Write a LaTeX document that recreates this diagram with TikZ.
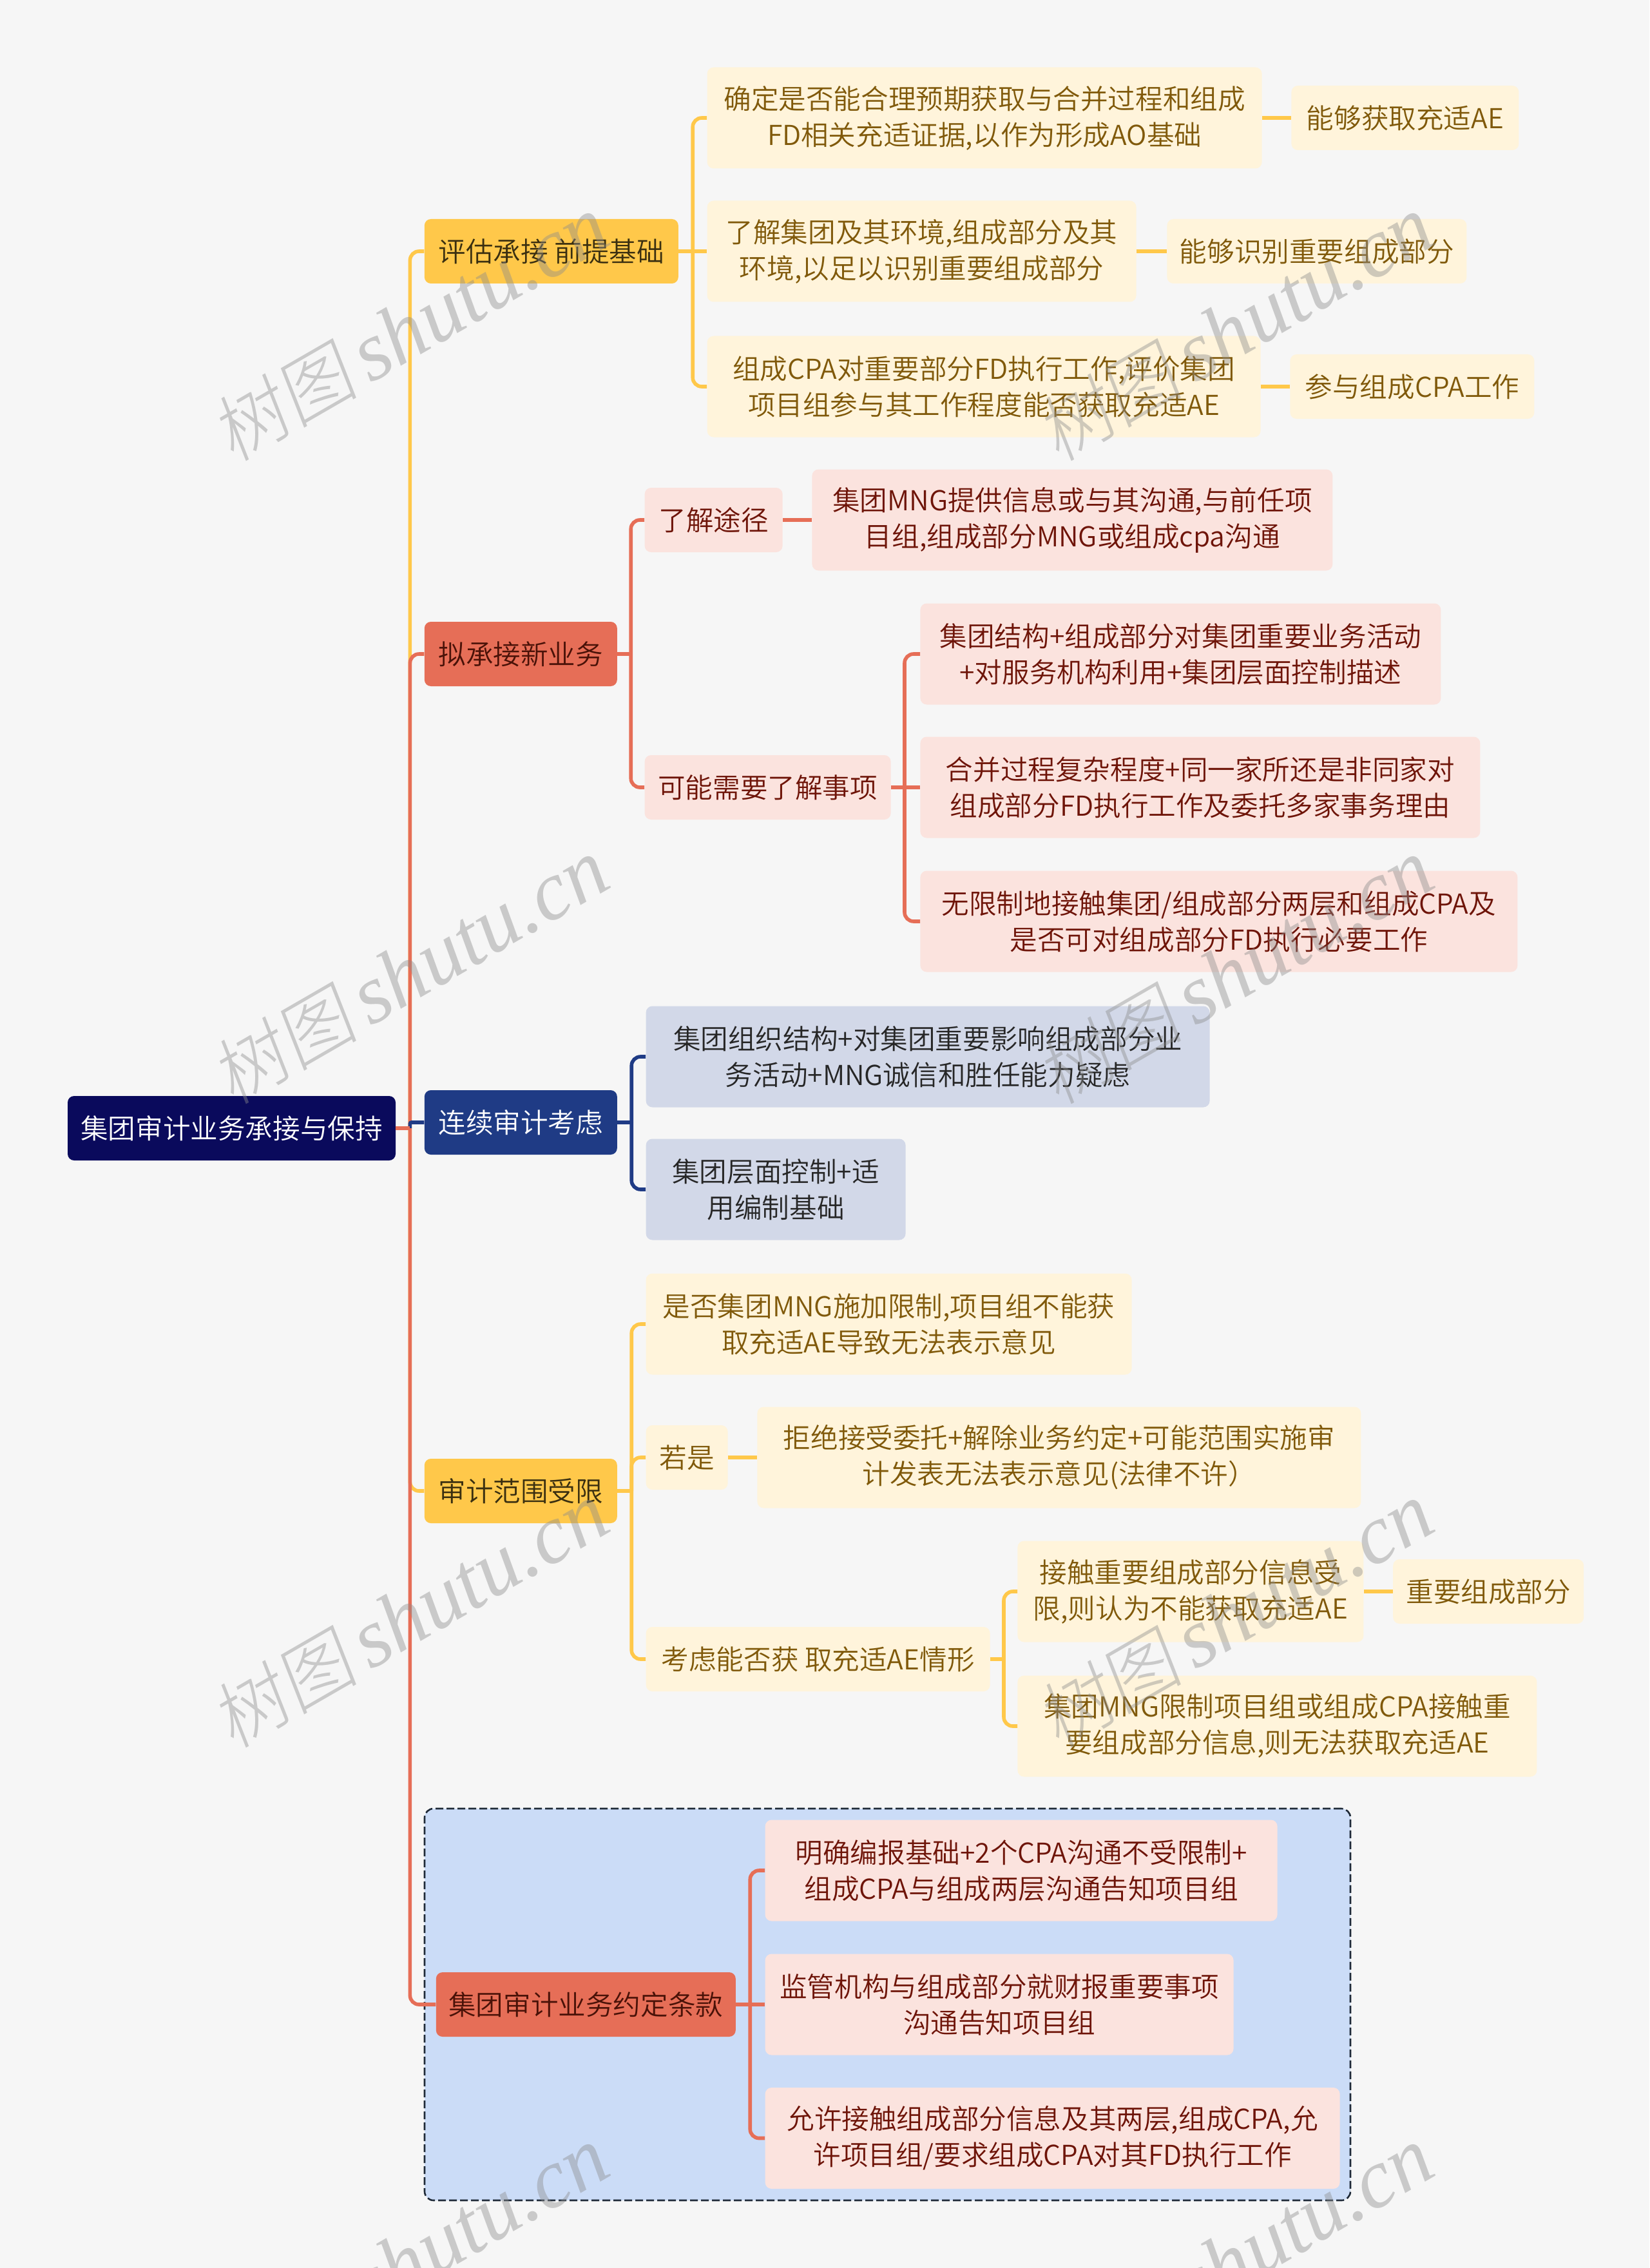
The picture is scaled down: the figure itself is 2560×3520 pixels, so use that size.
\documentclass[tikz,border=0pt]{standalone}
\usepackage{fontspec}
\setmainfont{Noto Sans CJK SC}[UprightFont=* DemiLight]
\newfontfamily\wmlatin{Liberation Serif}[ItalicFont=* Italic]
\newfontfamily\wmcjk{Noto Sans CJK SC}[UprightFont=* Light, FakeSlant=0.15]
\usepackage{xcolor}
\usetikzlibrary{positioning}
\definecolor{pagebg}{HTML}{F6F6F6}
\definecolor{navyroot}{HTML}{0A0A5C}
\definecolor{bluemain}{HTML}{1F3B85}
\definecolor{yellowmain}{HTML}{FFC84A}
\definecolor{redmain}{HTML}{E66E57}
\definecolor{yellowleaf}{HTML}{FFF4DB}
\definecolor{redleaf}{HTML}{FBE3DE}
\definecolor{blueleaf}{HTML}{D2D8E8}
\definecolor{yellowtext}{HTML}{80590A}
\definecolor{redtext}{HTML}{6E1408}
\definecolor{yellowdark}{HTML}{3A2F10}
\definecolor{reddark}{HTML}{4A1208}
\definecolor{groupfill}{HTML}{CBDCF7}
\definecolor{groupline}{HTML}{1F2A38}
\tikzset{
  box/.style={rectangle, rounded corners=5pt, inner sep=0pt, align=center, minimum height=50pt, font=\fontsize{21.3}{28}\selectfont},
  rootnode/.style={box, fill=navyroot, text=white},
  mainy/.style={box, fill=yellowmain, text=yellowdark},
  mainr/.style={box, fill=redmain, text=reddark},
  mainb/.style={box, fill=bluemain, text=white},
  leafy/.style={box, fill=yellowleaf, text=yellowtext},
  leafr/.style={box, fill=redleaf, text=redtext},
  leafb/.style={box, fill=blueleaf, text=black!85},
  two/.style={minimum height=78.5pt},
  wirey/.style={draw=yellowmain, line width=2.8pt, rounded corners=7pt},
  wirer/.style={draw=redmain, line width=2.8pt, rounded corners=7pt},
  wireb/.style={draw=bluemain, line width=2.8pt, rounded corners=7pt},
  groupbox/.style={rectangle, rounded corners=7pt, draw=groupline, fill=groupfill, line width=1.3pt, dash pattern=on 6pt off 2.5pt, inner sep=0pt},
  watermark/.style={rotate=30, text=black!45, opacity=0.42}
}
\newcommand{\wmtext}{{\fontsize{57}{60}\wmcjk 树图}\hspace{9pt}{\fontsize{65}{60}\wmlatin\itshape shutu.cn}}
\begin{document}
\begin{tikzpicture}[x=0.5pt, y=-0.5pt, node distance=22pt]
\fill[pagebg] (0,0) rectangle (2560,3520);
\useasboundingbox (0,0) rectangle (2560,3520);

\node[rootnode, minimum width=254.5pt] (root) at (359.5,1751) {集团审计业务承接与保持};
\coordinate[right=11pt of root] (trunk);

% main branches
\node[mainy, minimum width=197pt, right=of root, yshift=680.5pt] (assess) {评估承接 前提基础};
\node[mainr, minimum width=149.5pt, right=of root, yshift=368pt] (newbiz) {拟承接新业务};
\node[mainb, minimum width=149.5pt, right=of root, yshift=4.5pt] (continuing) {连续审计考虑};
\node[mainy, minimum width=149.5pt, right=of root, yshift=-281.5pt] (limit) {审计范围受限};

% group behind the last branch
\node[groupbox, minimum width=718.5pt, minimum height=304pt] (group) at (1377.5,3111) {};
\node[mainr, minimum width=232.5pt, right=of root, xshift=9pt, yshift=-680pt] (terms) {集团审计业务约定条款};

% first branch
\node[leafy, two, minimum width=430.5pt, right=of assess, yshift=103.5pt] (assessa) {确定是否能合理预期获取与合并过程和组成\\FD相关充适证据,以作为形成AO基础};
\node[leafy, two, minimum width=333pt, right=of assess] (assessb) {了解集团及其环境,组成部分及其\\环境,以足以识别重要组成部分};
\node[leafy, two, minimum width=429.5pt, right=of assess, yshift=-105pt] (assessc) {组成CPA对重要部分FD执行工作,评价集团\\项目组参与其工作程度能否获取充适AE};
\node[leafy, minimum width=176.5pt, right=22.5pt of assessa] (assessaa) {能够获取充适AE};
\node[leafy, minimum width=232.5pt, right=23.5pt of assessb] (assessbb) {能够识别重要组成部分};
\node[leafy, minimum width=189.5pt, right=22.5pt of assessc] (assesscc) {参与组成CPA工作};

% second branch
\node[leafr, minimum width=107pt, right=21pt of newbiz, yshift=104pt] (route) {了解途径};
\node[leafr, minimum width=191pt, right=21pt of newbiz, yshift=-103.5pt] (items) {可能需要了解事项};
\node[leafr, two, minimum width=404pt, right=22.5pt of route] (routea) {集团MNG提供信息或与其沟通,与前任项\\目组,组成部分MNG或组成cpa沟通};
\node[leafr, two, minimum width=404pt, right=22.5pt of items, yshift=103.5pt] (itemsa) {集团结构+组成部分对集团重要业务活动\\+对服务机构利用+集团层面控制描述};
\node[leafr, two, minimum width=434.5pt, right=22.5pt of items] (itemsb) {合并过程复杂程度+同一家所还是非同家对\\组成部分FD执行工作及委托多家事务理由};
\node[leafr, two, minimum width=463.5pt, right=22.5pt of items, yshift=-104pt] (itemsc) {无限制地接触集团/组成部分两层和组成CPA及\\是否可对组成部分FD执行必要工作};

% third branch
\node[leafb, two, minimum width=437.5pt, right=of continuing, yshift=51pt] (conta) {集团组织结构+对集团重要影响组成部分业\\务活动+MNG诚信和胜任能力疑虑};
\node[leafb, two, minimum width=201.5pt, right=of continuing, yshift=-52pt] (contb) {集团层面控制+适\\用编制基础};

% fourth branch
\node[leafy, two, minimum width=377pt, right=of limit, yshift=129.5pt] (limita) {是否集团MNG施加限制,项目组不能获\\取充适AE导致无法表示意见};
\node[leafy, minimum width=63.5pt, right=of limit, yshift=26pt] (ifso) {若是};
\node[leafy, minimum width=267pt, right=of limit, yshift=-130.5pt] (consider) {考虑能否获 取充适AE情形};
\node[leafy, two, minimum width=468.5pt, right=22.5pt of ifso] (ifsoa) {拒绝接受委托+解除业务约定+可能范围实施审\\计发表无法表示意见(法律不许）};
\node[leafy, two, minimum width=268.5pt, right=21pt of consider, yshift=52.5pt] (considera) {接触重要组成部分信息受\\限,则认为不能获取充适AE};
\node[leafy, two, minimum width=403pt, right=21pt of consider, yshift=-52pt] (considerb) {集团MNG限制项目组或组成CPA接触重\\要组成部分信息,则无法获取充适AE};
\node[leafy, minimum width=148pt, right=22.5pt of considera] (consideraa) {重要组成部分};

% last branch
\node[leafr, two, minimum width=397.5pt, right=22.5pt of terms, yshift=104pt] (termsa) {明确编报基础+2个CPA沟通不受限制+\\组成CPA与组成两层沟通告知项目组};
\node[leafr, two, minimum width=363.5pt, right=22.5pt of terms] (termsb) {监管机构与组成部分就财报重要事项\\沟通告知项目组};
\node[leafr, two, minimum width=446pt, right=22.5pt of terms, yshift=-103.75pt] (termsc) {允许接触组成部分信息及其两层,组成CPA,允\\许项目组/要求组成CPA对其FD执行工作};

% junctions
\coordinate[right=11pt of assess] (assessj);
\coordinate[right=10.5pt of newbiz] (newbizj);
\coordinate[right=10.5pt of items] (itemsj);
\coordinate[right=11pt of continuing] (contj);
\coordinate[right=11pt of limit] (limitj);
\coordinate[right=10.5pt of consider] (considerj);
\coordinate[right=11pt of terms] (termsj);

% trunk, later ones lie over earlier ones
\draw[wirey] (trunk) |- (assess);
\draw[wirey] (trunk) |- (limit);
\draw[wirer] (trunk) |- (newbiz);
\draw[wireb, rounded corners=1pt] (trunk) |- (continuing);
\draw[wirer] (trunk) |- (terms);
\draw[wirer, rounded corners=0pt] (root) -- (trunk);

\draw[wirey] (assess) -- (assessj);
\draw[wirey] (assessj) |- (assessa);
\draw[wirey] (assessj) -- (assessb);
\draw[wirey] (assessj) |- (assessc);
\draw[wirey] (assessa) -- (assessaa);
\draw[wirey] (assessb) -- (assessbb);
\draw[wirey] (assessc) -- (assesscc);

\draw[wirer] (newbiz) -- (newbizj);
\draw[wirer] (newbizj) |- (route);
\draw[wirer] (newbizj) |- (items);
\draw[wirer] (route) -- (routea);
\draw[wirer] (items) -- (itemsj);
\draw[wirer] (itemsj) |- (itemsa);
\draw[wirer] (itemsj) -- (itemsb);
\draw[wirer] (itemsj) |- (itemsc);

\draw[wireb] (continuing) -- (contj);
\draw[wireb] (contj) |- (conta);
\draw[wireb] (contj) |- (contb);

\draw[wirey] (limit) -- (limitj);
\draw[wirey] (limitj) |- (limita);
\draw[wirey] (limitj) |- (ifso);
\draw[wirey] (limitj) |- (consider);
\draw[wirey] (ifso) -- (ifsoa);
\draw[wirey] (consider) -- (considerj);
\draw[wirey] (considerj) |- (considera);
\draw[wirey] (considerj) |- (considerb);
\draw[wirey] (considera) -- (consideraa);

\draw[wirer] (terms) -- (termsj);
\draw[wirer] (termsj) |- (termsa);
\draw[wirer] (termsj) -- (termsb);
\draw[wirer] (termsj) |- (termsc);

% watermarks
\node[watermark] (marka) at (636,510) {\wmtext};
\node[watermark] (markb) at (1916,510) {\wmtext};
\node[watermark] (markc) at (636,1508) {\wmtext};
\node[watermark] (markd) at (1916,1508) {\wmtext};
\node[watermark] (marke) at (636,2507) {\wmtext};
\node[watermark] (markf) at (1916,2507) {\wmtext};
\node[watermark] (markg) at (636,3507) {\wmtext};
\node[watermark] (markh) at (1916,3507) {\wmtext};
\end{tikzpicture}
\end{document}
